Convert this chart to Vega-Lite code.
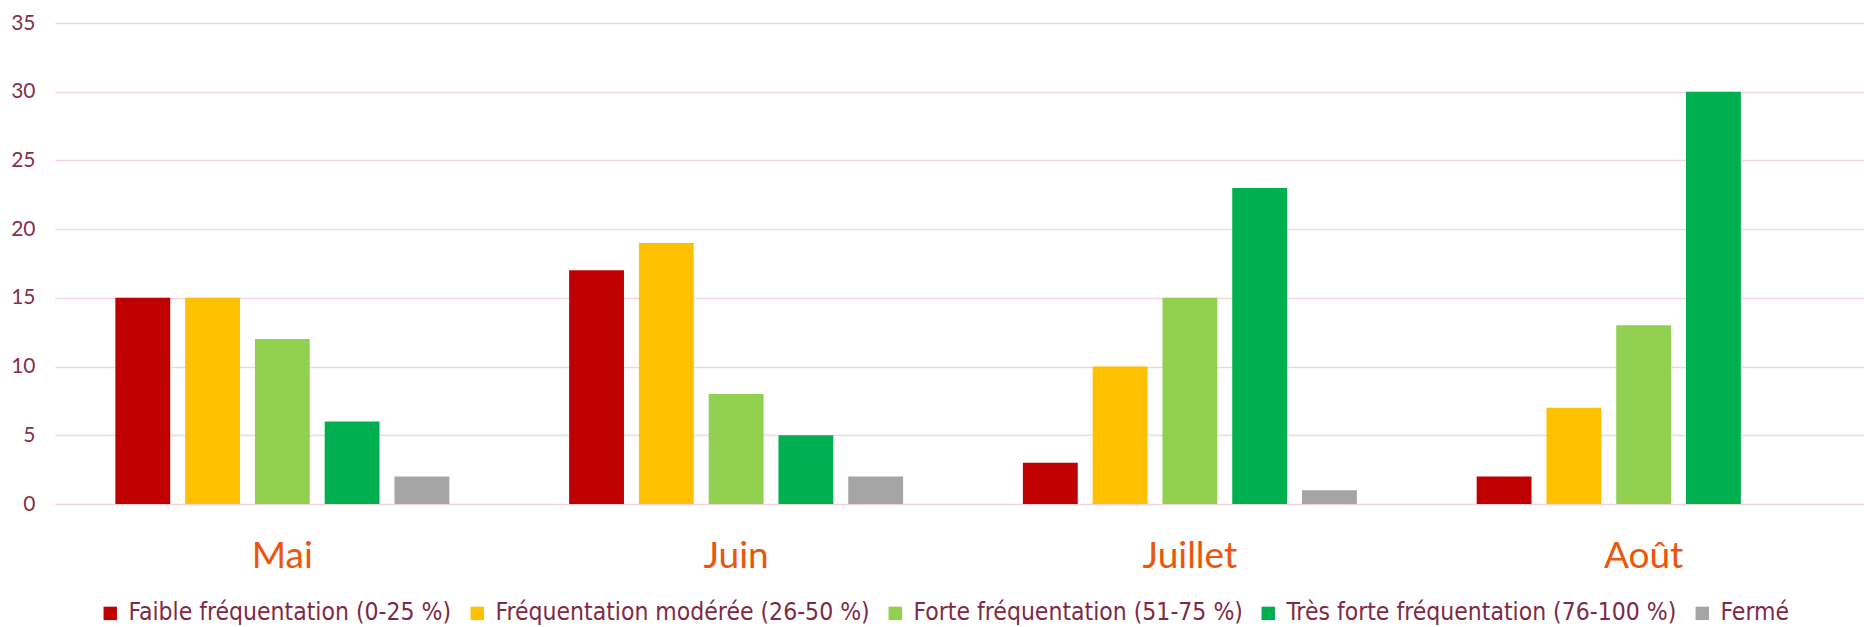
{
  "$schema": "https://vega.github.io/schema/vega-lite/v6.json",
  "width": 1816,
  "height": 481,
  "autosize": {"type": "none"},
  "padding": {"left": 55, "top": 23, "right": 0, "bottom": 123},
  "background": "white",
  "config": {"view": {"stroke": null}},
  "data": {
    "values": [
      {"mois": "Mai", "cat": "Faible fréquentation (0-25 %)", "n": 15},
      {"mois": "Mai", "cat": "Fréquentation modérée (26-50 %)", "n": 15},
      {"mois": "Mai", "cat": "Forte fréquentation (51-75 %)", "n": 12},
      {"mois": "Mai", "cat": "Très forte fréquentation (76-100 %)", "n": 6},
      {"mois": "Mai", "cat": "Fermé", "n": 2},
      {"mois": "Juin", "cat": "Faible fréquentation (0-25 %)", "n": 17},
      {"mois": "Juin", "cat": "Fréquentation modérée (26-50 %)", "n": 19},
      {"mois": "Juin", "cat": "Forte fréquentation (51-75 %)", "n": 8},
      {"mois": "Juin", "cat": "Très forte fréquentation (76-100 %)", "n": 5},
      {"mois": "Juin", "cat": "Fermé", "n": 2},
      {"mois": "Juillet", "cat": "Faible fréquentation (0-25 %)", "n": 3},
      {"mois": "Juillet", "cat": "Fréquentation modérée (26-50 %)", "n": 10},
      {"mois": "Juillet", "cat": "Forte fréquentation (51-75 %)", "n": 15},
      {"mois": "Juillet", "cat": "Très forte fréquentation (76-100 %)", "n": 23},
      {"mois": "Juillet", "cat": "Fermé", "n": 1},
      {"mois": "Août", "cat": "Faible fréquentation (0-25 %)", "n": 2},
      {"mois": "Août", "cat": "Fréquentation modérée (26-50 %)", "n": 7},
      {"mois": "Août", "cat": "Forte fréquentation (51-75 %)", "n": 13},
      {"mois": "Août", "cat": "Très forte fréquentation (76-100 %)", "n": 30},
      {"mois": "Août", "cat": "Fermé", "n": 0}
    ]
  },
  "mark": {"type": "bar"},
  "encoding": {
    "x": {
      "field": "mois",
      "type": "nominal",
      "sort": ["Mai", "Juin", "Juillet", "Août"],
      "scale": {"paddingInner": 0.264, "paddingOuter": 0.133},
      "axis": {
        "title": null,
        "domain": false,
        "ticks": false,
        "labelAngle": 0,
        "labelFont": "Lato",
        "labelFontSize": 37,
        "labelColor": "#EC560C",
        "labelPadding": 34
      }
    },
    "xOffset": {
      "field": "cat",
      "type": "nominal",
      "sort": ["Faible fréquentation (0-25 %)", "Fréquentation modérée (26-50 %)", "Forte fréquentation (51-75 %)", "Très forte fréquentation (76-100 %)", "Fermé"],
      "scale": {"paddingInner": 0.214, "paddingOuter": 0}
    },
    "y": {
      "field": "n",
      "type": "quantitative",
      "scale": {"domain": [0, 35]},
      "axis": {
        "title": null,
        "values": [0, 5, 10, 15, 20, 25, 30, 35],
        "domain": false,
        "ticks": false,
        "grid": true,
        "gridColor": "#F3D5E0",
        "gridWidth": 1.5,
        "labelFont": "Lato",
        "labelFontSize": 21,
        "labelColor": "#84304A",
        "labelPadding": 20
      }
    },
    "color": {
      "field": "cat",
      "type": "nominal",
      "scale": {
        "domain": ["Faible fréquentation (0-25 %)", "Fréquentation modérée (26-50 %)", "Forte fréquentation (51-75 %)", "Très forte fréquentation (76-100 %)", "Fermé"],
        "range": ["#C00000", "#FFC000", "#92D050", "#00B050", "#A5A5A5"]
      },
      "legend": {
        "title": null,
        "orient": "none",
        "legendX": 43,
        "legendY": 578,
        "direction": "horizontal",
        "columns": 5,
        "symbolType": "square",
        "symbolSize": 180,
        "symbolStrokeWidth": 0,
        "labelFont": "Liberation Sans Narrow, DejaVu Sans Condensed",
        "labelFontSize": 24.5,
        "labelColor": "#7E2A45",
        "labelLimit": 600,
        "labelOffset": 6,
        "columnPadding": 13
      }
    }
  }
}
